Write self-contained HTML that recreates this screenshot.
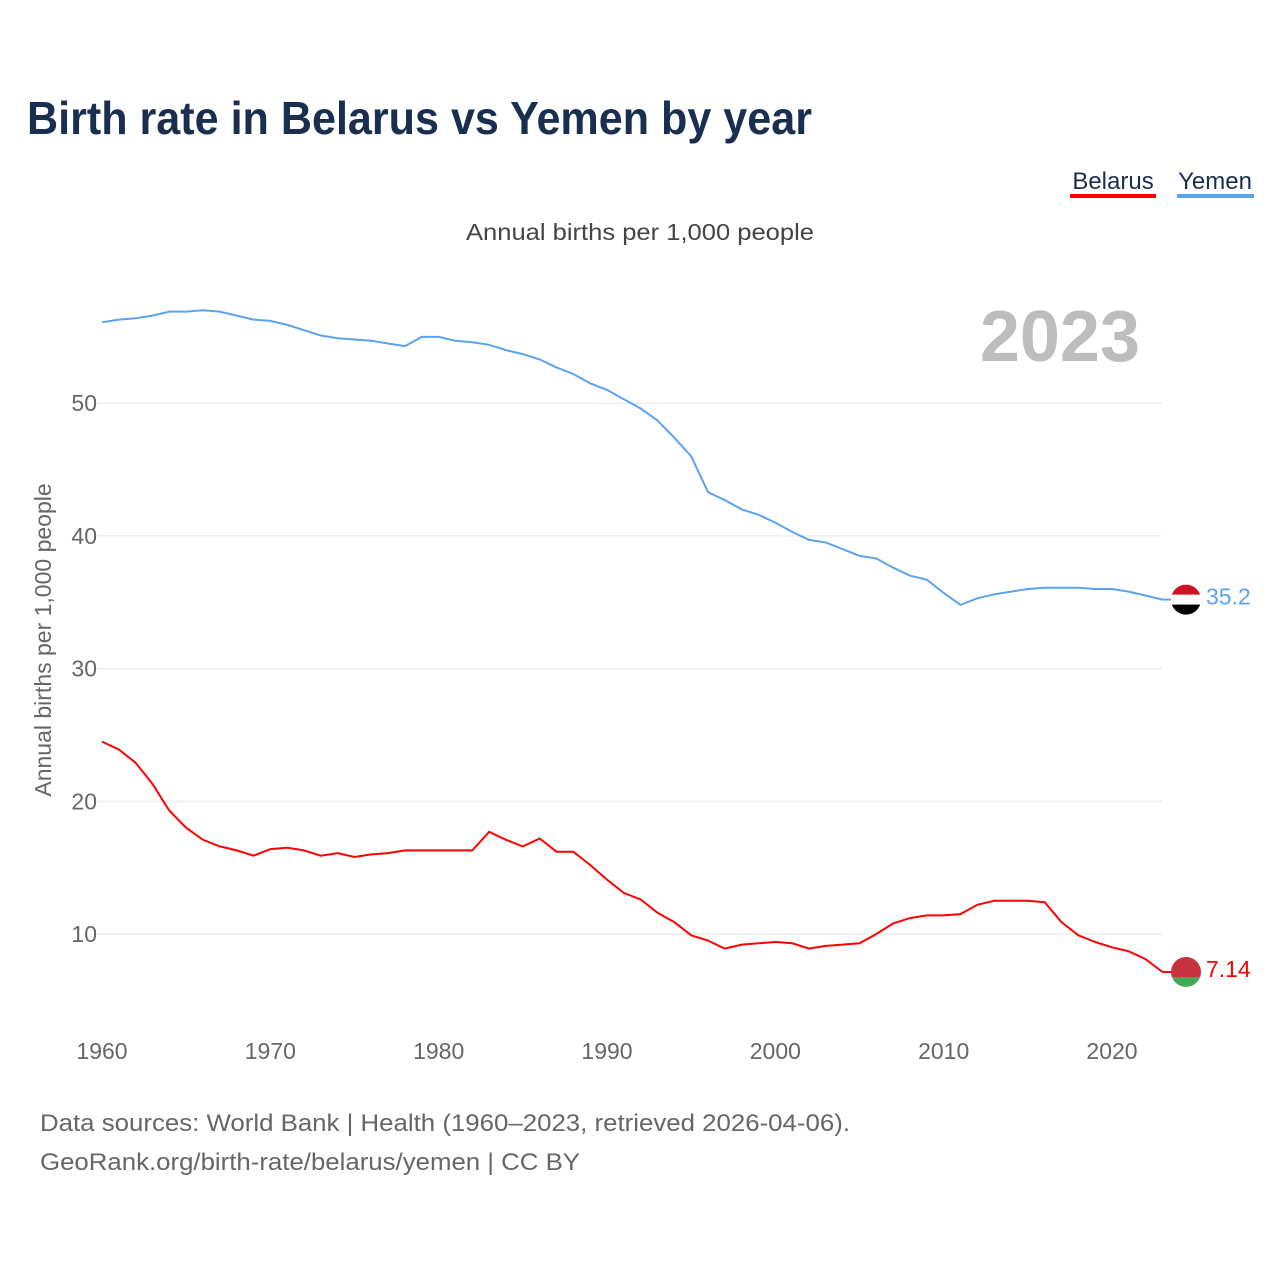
<!DOCTYPE html>
<html><head><meta charset="utf-8">
<style>
body{margin:0;background:#fff;font-family:"Liberation Sans",sans-serif;}
#wrap{position:relative;width:1280px;height:1280px;overflow:hidden;}
</style></head>
<body><div id="wrap">
<svg id="chart" width="1280" height="1280" xmlns="http://www.w3.org/2000/svg">
<text x="27" y="134" font-size="46" font-weight="bold" fill="#1a2e4f" textLength="785" lengthAdjust="spacingAndGlyphs">Birth rate in Belarus vs Yemen by year</text>
<g><text x="1113" y="189" font-size="24" fill="#1a2e4f" text-anchor="middle">Belarus</text><rect x="1070" y="194" width="86" height="4" fill="#f00"/></g>
<g><text x="1215" y="189" font-size="24" fill="#1a2e4f" text-anchor="middle">Yemen</text><rect x="1177" y="194" width="77" height="4" fill="#5ba3ef"/></g>
<text x="466" y="240" font-size="23" fill="#444" textLength="348" lengthAdjust="spacingAndGlyphs">Annual births per 1,000 people</text>
<text x="1140" y="361" font-size="72" font-weight="bold" fill="#bdbdbd" text-anchor="end">2023</text>
<text transform="translate(51,640) rotate(-90)" font-size="23" fill="#666" text-anchor="middle">Annual births per 1,000 people</text>
<g id="grid"></g><g id="lines"></g>
<text x="40" y="1131" font-size="24" fill="#666" textLength="810" lengthAdjust="spacingAndGlyphs">Data sources: World Bank | Health (1960–2023, retrieved 2026-04-06).</text>
<text x="40" y="1170" font-size="24" fill="#666" textLength="540" lengthAdjust="spacingAndGlyphs">GeoRank.org/birth-rate/belarus/yemen | CC BY</text>
</svg></div>
<script>
const years=[];for(let y=1960;y<=2023;y++)years.push(y);
const yemen=[56.1,56.3,56.4,56.6,56.9,56.9,57.0,56.9,56.6,56.3,56.2,55.9,55.5,55.1,54.9,54.8,54.7,54.5,54.3,55.0,55.0,54.7,54.6,54.4,54.0,53.7,53.3,52.7,52.2,51.5,51.0,50.3,49.6,48.7,47.4,46.0,43.3,42.7,42.0,41.6,41.0,40.3,39.7,39.5,39.0,38.5,38.3,37.6,37.0,36.7,35.7,34.8,35.3,35.6,35.8,36.0,36.1,36.1,36.1,36.0,36.0,35.8,35.5,35.2];
const belarus=[24.5,23.9,22.9,21.3,19.3,18.0,17.1,16.6,16.3,15.9,16.4,16.5,16.3,15.9,16.1,15.8,16.0,16.1,16.3,16.3,16.3,16.3,16.3,17.7,17.1,16.6,17.2,16.2,16.2,15.2,14.1,13.1,12.6,11.6,10.9,9.9,9.5,8.9,9.2,9.3,9.4,9.3,8.9,9.1,9.2,9.3,10.0,10.8,11.2,11.4,11.4,11.5,12.2,12.5,12.5,12.5,12.4,10.9,9.9,9.4,9.0,8.7,8.1,7.14];
const yTicks=[10,20,30,40,50];
const xTicks=[1960,1970,1980,1990,2000,2010,2020];
const labels=["7.14","35.2"];
const NS="http://www.w3.org/2000/svg";
const X=v=>102+(v-1960)*(1010/60);
const Y=v=>1066.7-v*13.27;
const grid=document.getElementById('grid'),lines=document.getElementById('lines');
function mk(tag,at,parent){const e=document.createElementNS(NS,tag);for(const k in at)e.setAttribute(k,at[k]);parent.appendChild(e);return e;}
yTicks.forEach(t=>{
 const l=mk('line',{x1:97,x2:1162,y1:Y(t),y2:Y(t),stroke:'#e6e6e6','stroke-width':1},grid);
 
 
 const tx=mk('text',{x:97,y:Y(t)+8,'font-size':23,fill:'#666','text-anchor':'end'},grid);tx.textContent=t;
 
 
});
xTicks.forEach(t=>{
 const tx=mk('text',{x:X(t),y:1059,'font-size':23,fill:'#666','text-anchor':'middle'},grid);tx.textContent=t;
 
 
});
function series(vals,color,name,label,flag){
 const d=vals.map((v,i)=>(i?'L':'M')+X(years[i]).toFixed(1)+','+Y(v).toFixed(1)).join('');
 const p=mk('path',{d:d,fill:'none',stroke:color,'stroke-width':2},lines);
 
 
 const lx=X(2023),ly=Y(vals[vals.length-1]);
 mk('line',{x1:lx,x2:1178,y1:ly,y2:ly,stroke:color,'stroke-width':2},lines);
 const g=mk('g',{},lines);
 
 
 const cx=1186,r=15;
 flag.forEach((c,i)=>{mk('rect',{x:cx-r,y:ly-r+i*(2*r/flag.length),width:2*r,height:2*r/flag.length+0.5,fill:c,'clip-path':'url(#c'+name+')'},g);});
 const cp=mk('clipPath',{id:'c'+name},g);mk('circle',{cx:cx,cy:ly,r:r},cp);
 const t=mk('text',{x:1206,y:ly+5,'font-size':23,fill:color},lines);t.textContent=label;
 
 
}
series(yemen,'#5ba3ef','yemen',labels[1],['#ce1126','#ffffff','#000000']);
series(belarus,'#ff0000','belarus',labels[0],['#c8313e','#c8313e','#4aa657']);
</script>
</body></html>
